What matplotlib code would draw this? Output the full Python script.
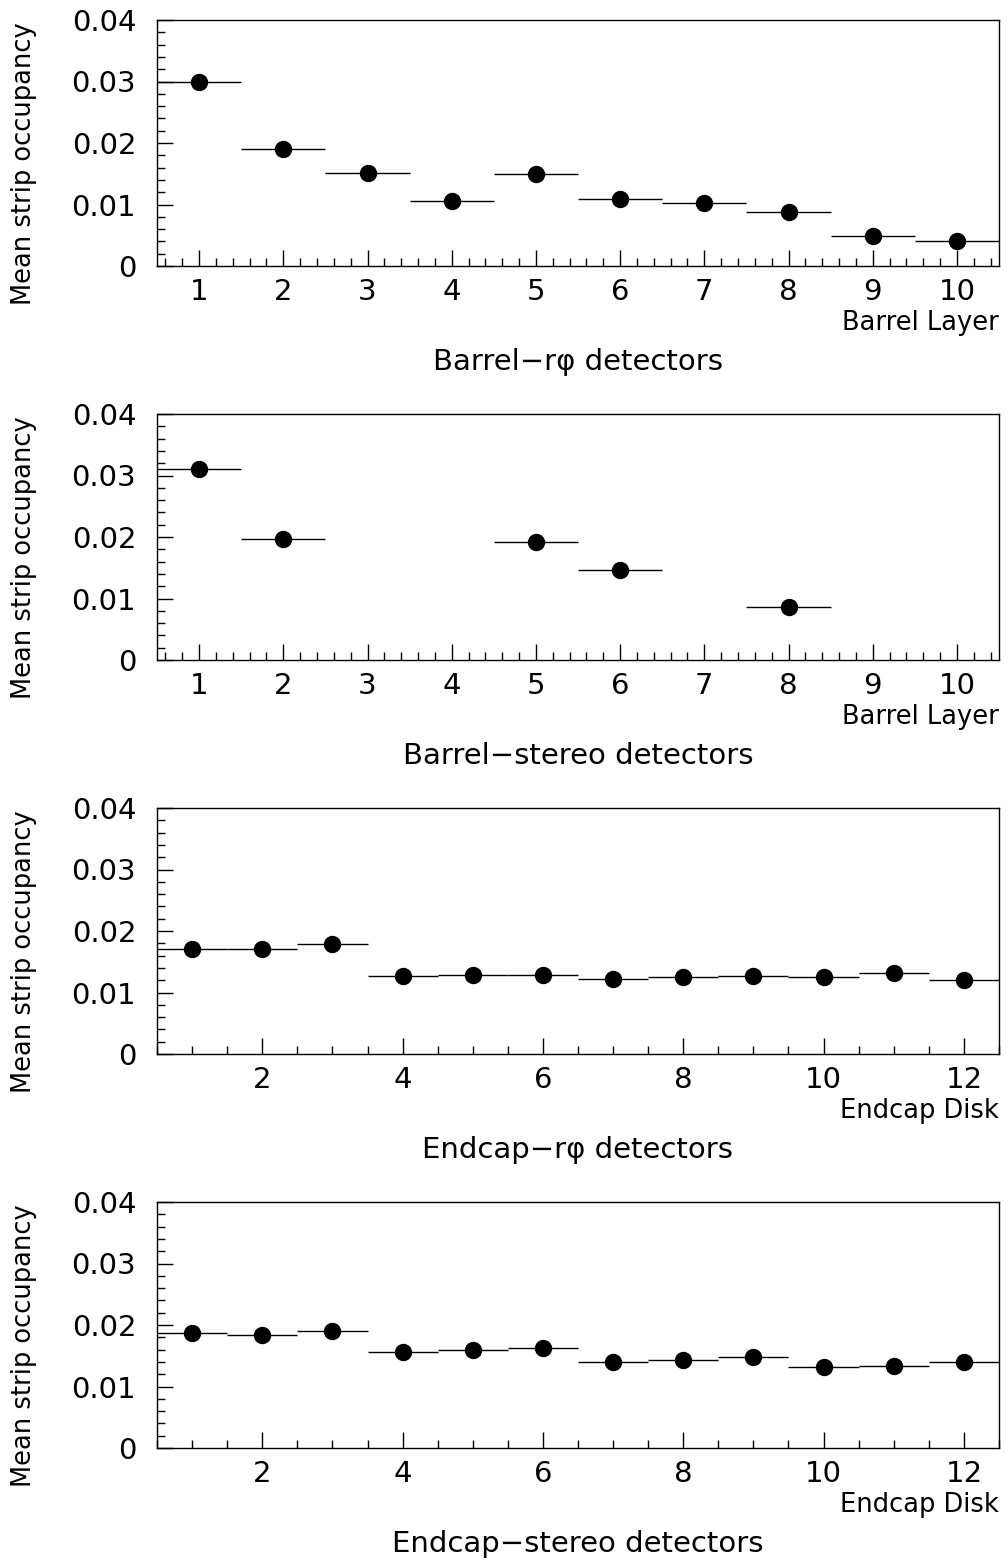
import numpy as np
import matplotlib
matplotlib.use("Agg")
import matplotlib.pyplot as plt
from matplotlib.ticker import MultipleLocator, FuncFormatter

# Mean strip occupancy per layer / disk
barrel_layers = np.arange(1, 11)
barrel_rphi = [0.0300, 0.0190, 0.0151, 0.0106, 0.0150, 0.0109, 0.0102, 0.0087, 0.0049, 0.0041]
barrel_stereo = [0.0311, 0.0196, np.nan, np.nan, 0.0192, 0.0146, np.nan, 0.0086, np.nan, np.nan]

endcap_disks = np.arange(1, 13)
endcap_rphi = [0.0170, 0.0171, 0.0179, 0.0127, 0.0128, 0.0128, 0.0122, 0.0125, 0.0127, 0.0126, 0.0131, 0.0120]
endcap_stereo = [0.0187, 0.0183, 0.0191, 0.0156, 0.0160, 0.0162, 0.0140, 0.0143, 0.0148, 0.0131, 0.0134, 0.0140]

panels = [
    (barrel_layers, barrel_rphi, "Barrel Layer", "Barrel\u2212r\u03c6 detectors"),
    (barrel_layers, barrel_stereo, "Barrel Layer", "Barrel\u2212stereo detectors"),
    (endcap_disks, endcap_rphi, "Endcap Disk", "Endcap\u2212r\u03c6 detectors"),
    (endcap_disks, endcap_stereo, "Endcap Disk", "Endcap\u2212stereo detectors"),
]

W, H = 1008, 1562
fig = plt.figure(figsize=(W / 100, H / 100), dpi=100)

left, width = 157 / W, 842 / W
tops = [20, 414, 808, 1202]
hgt = 246

def ylab(v, pos):
    return "0" if abs(v) < 1e-9 else "%.2f" % v

for (x, y, xname, title), top in zip(panels, tops):
    ax = fig.add_axes([left, 1 - (top + hgt) / H, width, hgt / H])
    ax.errorbar(x, y, xerr=0.5, fmt="o", color="black", ms=11.5,
                elinewidth=1.0, capsize=0)
    ax.set_xlim(0.5, x[-1] + 0.5)
    ax.set_ylim(0, 0.04)

    ax.yaxis.set_major_locator(MultipleLocator(0.01))
    ax.yaxis.set_minor_locator(MultipleLocator(0.002))
    ax.yaxis.set_major_formatter(FuncFormatter(ylab))
    if len(x) == 10:
        ax.xaxis.set_major_locator(MultipleLocator(1))
        ax.xaxis.set_minor_locator(MultipleLocator(0.2))
    else:
        ax.xaxis.set_major_locator(MultipleLocator(2))
        ax.xaxis.set_minor_locator(MultipleLocator(0.5))

    ax.tick_params(which="both", direction="in", top=False, right=False,
                   width=1.0, labelsize=21)
    ax.tick_params(axis="x", which="both", pad=9)
    ax.tick_params(axis="y", which="both", pad=15)
    ax.tick_params(which="major", length=11.5)
    ax.tick_params(which="minor", length=5.8)
    for s in ax.spines.values():
        s.set_linewidth(1.0)

    ax.text(1.0, -57 / hgt, xname, transform=ax.transAxes, ha="right",
            va="center", fontsize=18.5)
    ax.text(0.5, -96 / hgt, title, transform=ax.transAxes, ha="center",
            va="center", fontsize=21)
    fig.text(11 / W, 1 - (top + 2) / H, "Mean strip occupancy",
             rotation=90, ha="left", va="top", fontsize=18.5)

fig.savefig("out.png", dpi=100)
